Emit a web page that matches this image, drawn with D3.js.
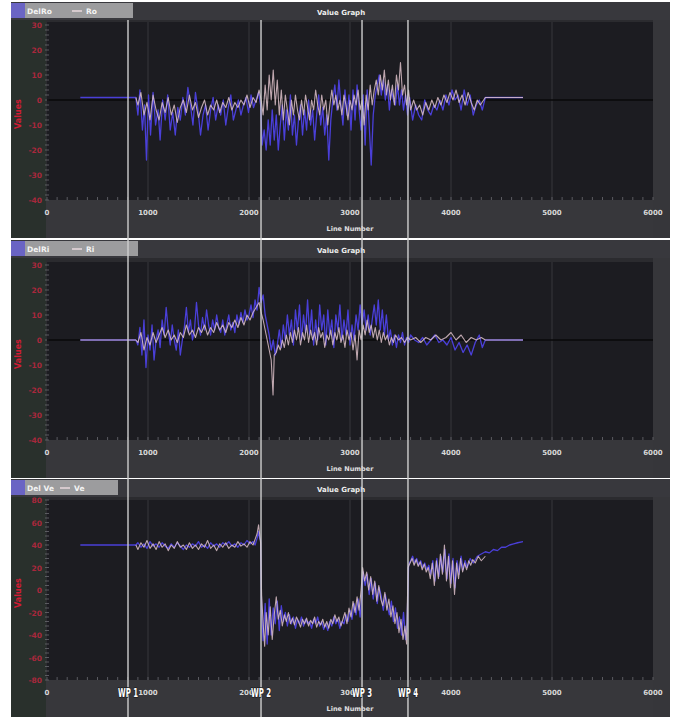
<!DOCTYPE html>
<html><head><meta charset="utf-8">
<script src="https://cdn.jsdelivr.net/npm/d3@7/dist/d3.min.js"></script>
<style>body{margin:0;background:#fff}svg{display:block}</style>
</head><body><svg id="c" width="678" height="717"></svg>
<script>
// ---------- data ----------
const xTicks = [0, 1000, 2000, 3000, 4000, 5000, 6000];
const yTicksA = [30, 20, 10, 0, -10, -20, -30, -40];
const yTicksB = [80, 60, 40, 20, 0, -20, -40, -60, -80];
const titles = ["Value Graph", "Value Graph", "Value Graph"];
const xLabel = "Line Number";
const yLabel = "Values";
const legendA = ["DelRo", "Ro"];
const legendB = ["DelRi", "Ri"];
const legendC = ["Del Ve", "Ve"];
const wpPositions = [802, 2119, 3119, 3574];
const wpLabels = ["WP 1", "WP 2", "WP 3", "WP 4"];

const p1Blue = [[330,1],[880,1],[900,-6],[920,4],[945,-12],[965,-2],[985,-24],[1005,2],[1025,-14],[1050,3],[1075,-10],[1100,-4],[1120,-16],[1145,0],[1170,-8],[1195,2],[1220,-12],[1245,-5],[1270,-14],[1295,-3],[1320,-8],[1345,1],[1370,-6],[1395,5],[1420,-2],[1445,-10],[1470,3],[1495,-4],[1520,-14],[1545,-6],[1570,-2],[1595,-12],[1620,-4],[1645,1],[1670,-8],[1695,-2],[1720,-6],[1745,0],[1770,-10],[1795,-3],[1820,2],[1845,-8],[1870,-4],[1895,0],[1920,-6],[1945,-2],[1970,1],[1995,-5],[2020,2],[2045,-3],[2070,0],[2095,3],[2115,-2],[2130,-18],[2150,-12],[2170,-20],[2190,-8],[2210,-18],[2230,-4],[2250,-16],[2270,-6],[2290,-20],[2310,-10],[2330,-2],[2350,-16],[2370,-4],[2390,-12],[2410,2],[2430,-14],[2450,-6],[2470,-18],[2490,-8],[2510,-2],[2530,-14],[2550,-4],[2570,-12],[2590,0],[2610,-10],[2630,-4],[2650,-16],[2670,-6],[2690,2],[2710,-10],[2730,-3],[2750,-14],[2770,-6],[2790,-24],[2810,-8],[2830,0],[2850,6],[2870,-4],[2890,8],[2910,-2],[2930,-10],[2950,4],[2970,-6],[2990,2],[3010,-12],[3030,4],[3050,-8],[3070,6],[3090,-4],[3110,-12],[3130,2],[3150,-18],[3170,4],[3190,-10],[3210,-26],[3230,-6],[3250,2],[3270,6],[3290,10],[3310,2],[3330,8],[3350,0],[3370,6],[3390,-4],[3410,4],[3430,0],[3450,-2],[3470,6],[3490,-2],[3510,4],[3530,-4],[3550,2],[3570,-6],[3590,1],[3620,-8],[3650,-2],[3680,-6],[3710,-8],[3740,0],[3770,-4],[3800,-6],[3830,-2],[3860,-4],[3890,0],[3920,-4],[3950,2],[3980,-2],[4010,4],[4040,0],[4070,2],[4100,-4],[4130,4],[4160,-2],[4190,2],[4220,-6],[4250,-2],[4280,0],[4310,-4],[4340,1],[4713,1]];
const p1Pink = [[880,1],[900,-2],[930,3],[960,-6],[990,-1],[1020,-8],[1050,2],[1080,-4],[1110,-8],[1140,-1],[1170,-5],[1200,1],[1230,-6],[1260,-2],[1290,-9],[1320,-3],[1350,0],[1380,-5],[1410,2],[1440,-4],[1470,-1],[1500,-7],[1530,-3],[1560,0],[1590,-6],[1620,-2],[1650,-4],[1680,0],[1710,-5],[1740,-1],[1770,-3],[1800,1],[1830,-4],[1860,-1],[1890,-3],[1920,0],[1950,-2],[1980,2],[2010,-3],[2040,1],[2070,-1],[2100,4],[2120,0],[2140,-6],[2160,6],[2180,-4],[2200,10],[2220,0],[2240,12],[2260,-2],[2280,8],[2300,-6],[2320,4],[2340,-8],[2360,2],[2380,-4],[2400,-10],[2420,0],[2440,-6],[2460,2],[2480,-4],[2500,-8],[2520,0],[2540,-6],[2560,2],[2580,-3],[2600,-8],[2620,0],[2640,-4],[2660,4],[2680,-2],[2700,-6],[2720,2],[2740,-4],[2760,0],[2780,-10],[2800,-2],[2820,4],[2840,-2],[2860,2],[2880,-4],[2900,0],[2920,-6],[2940,2],[2960,-2],[2980,-8],[3000,0],[3020,-4],[3040,2],[3060,-2],[3080,4],[3100,-4],[3120,0],[3140,-10],[3160,2],[3180,-4],[3200,6],[3220,-2],[3240,4],[3260,8],[3280,2],[3300,10],[3320,4],[3340,12],[3360,2],[3380,8],[3400,0],[3420,6],[3440,-2],[3460,10],[3480,4],[3500,15],[3520,2],[3540,6],[3560,-2],[3580,4],[3600,-4],[3630,0],[3660,-4],[3690,-2],[3720,-6],[3750,-1],[3780,-4],[3810,0],[3840,-3],[3870,1],[3900,-2],[3930,2],[3960,-1],[3990,3],[4020,0],[4050,4],[4080,-1],[4110,2],[4140,-2],[4170,3],[4200,-1],[4230,-4],[4260,0],[4290,-2],[4340,1],[4713,1]];

const p2Blue = [[330,0],[880,0],[900,-2],[920,5],[940,-6],[960,8],[980,-11],[1000,2],[1020,-4],[1040,6],[1060,-8],[1080,0],[1100,4],[1120,-3],[1140,8],[1160,2],[1180,13],[1200,4],[1220,-2],[1240,6],[1260,0],[1280,-4],[1300,4],[1320,-6],[1340,0],[1360,5],[1380,13],[1400,3],[1420,8],[1440,0],[1460,4],[1480,15],[1500,6],[1520,2],[1540,9],[1560,4],[1580,12],[1600,6],[1620,2],[1640,8],[1660,4],[1680,10],[1700,5],[1720,3],[1740,8],[1760,2],[1780,6],[1800,10],[1820,4],[1840,7],[1860,3],[1880,10],[1900,6],[1920,11],[1940,7],[1960,12],[1980,8],[2000,10],[2020,14],[2040,9],[2060,16],[2080,12],[2100,21],[2120,15],[2140,18],[2160,10],[2180,6],[2200,2],[2220,-4],[2240,0],[2260,-6],[2280,-2],[2300,4],[2320,-3],[2340,6],[2360,0],[2380,10],[2400,2],[2420,8],[2440,-2],[2460,12],[2480,4],[2500,14],[2520,0],[2540,10],[2560,3],[2580,16],[2600,2],[2620,12],[2640,-2],[2660,8],[2680,0],[2700,14],[2720,4],[2740,10],[2760,-2],[2780,12],[2800,2],[2820,8],[2840,-3],[2860,10],[2880,4],[2900,14],[2920,0],[2940,8],[2960,2],[2980,12],[3000,-2],[3020,6],[3040,0],[3060,10],[3080,4],[3100,14],[3120,6],[3140,12],[3160,4],[3180,10],[3200,2],[3220,8],[3240,14],[3260,6],[3280,16],[3300,4],[3320,12],[3340,2],[3360,10],[3380,0],[3400,4],[3420,-2],[3440,2],[3460,-3],[3480,2],[3500,-1],[3520,3],[3540,-2],[3560,1],[3580,-1],[3600,2],[3640,0],[3680,-1],[3720,1],[3760,-2],[3800,0],[3840,2],[3880,-1],[3920,0],[3960,-2],[4000,1],[4040,-4],[4080,-1],[4120,-5],[4160,-2],[4200,-6],[4240,-1],[4280,2],[4310,-3],[4340,0],[4713,0]];
const p2Pink = [[330,0],[880,0],[900,-1],[930,3],[960,-4],[990,1],[1020,-2],[1050,3],[1080,-1],[1110,2],[1140,5],[1170,1],[1200,4],[1230,0],[1260,2],[1290,-1],[1320,3],[1350,1],[1380,6],[1410,2],[1440,4],[1470,1],[1500,5],[1530,3],[1560,6],[1590,2],[1620,5],[1650,3],[1680,7],[1710,4],[1740,6],[1770,3],[1800,7],[1830,5],[1860,8],[1890,5],[1920,9],[1950,6],[1980,10],[2010,8],[2040,11],[2070,13],[2100,15],[2120,11],[2140,8],[2160,4],[2180,0],[2200,-4],[2220,-8],[2238,-22],[2250,-6],[2270,-5],[2290,-2],[2310,-4],[2330,0],[2350,-3],[2370,2],[2390,-2],[2410,3],[2430,-1],[2450,4],[2470,0],[2490,5],[2510,-2],[2530,3],[2550,0],[2570,6],[2590,-1],[2610,4],[2630,0],[2650,3],[2670,-2],[2690,5],[2710,1],[2730,3],[2750,-3],[2770,2],[2790,0],[2810,4],[2830,-2],[2850,3],[2870,0],[2890,5],[2910,-1],[2930,2],[2950,-3],[2970,4],[2990,0],[3010,3],[3030,-4],[3050,2],[3070,-8],[3090,4],[3110,0],[3130,6],[3150,2],[3170,8],[3190,3],[3210,6],[3230,1],[3250,5],[3270,0],[3290,4],[3310,-1],[3330,3],[3350,0],[3370,2],[3390,-2],[3410,1],[3430,-1],[3450,2],[3480,0],[3510,1],[3540,-1],[3570,1],[3600,0],[3650,1],[3700,-1],[3750,1],[3800,0],[3850,2],[3900,0],[3950,1],[4000,3],[4050,0],[4100,2],[4150,-1],[4200,1],[4250,0],[4300,1],[4340,0],[4713,0]];

const p3Blue = [[330,40],[880,40],[900,42],[930,38],[960,41],[990,37],[1020,43],[1050,39],[1080,41],[1110,38],[1140,42],[1170,39],[1200,37],[1230,41],[1260,38],[1290,42],[1320,39],[1350,36],[1380,40],[1410,38],[1440,41],[1470,39],[1500,43],[1530,38],[1560,40],[1590,37],[1620,42],[1650,39],[1680,41],[1710,38],[1740,42],[1770,40],[1800,43],[1830,39],[1860,41],[1890,38],[1920,42],[1950,40],[1980,44],[2010,41],[2040,43],[2060,40],[2080,46],[2095,52],[2105,46],[2115,44],[2125,-20],[2140,-45],[2160,-12],[2180,-48],[2200,-8],[2220,-40],[2240,-16],[2260,-30],[2280,-10],[2300,-36],[2320,-14],[2340,-28],[2360,-20],[2380,-32],[2400,-22],[2420,-30],[2440,-24],[2460,-34],[2480,-26],[2500,-30],[2520,-24],[2540,-32],[2560,-26],[2580,-30],[2600,-28],[2620,-34],[2640,-26],[2660,-30],[2680,-24],[2700,-32],[2720,-28],[2740,-35],[2760,-30],[2780,-36],[2800,-28],[2820,-32],[2840,-24],[2860,-30],[2880,-26],[2900,-34],[2920,-28],[2940,-30],[2960,-22],[2980,-28],[3000,-18],[3020,-26],[3040,-12],[3060,-22],[3080,-8],[3100,-24],[3120,-2],[3130,16],[3150,4],[3170,14],[3190,-4],[3210,10],[3230,-8],[3250,6],[3270,-12],[3290,2],[3310,-6],[3330,-18],[3350,-4],[3370,-14],[3390,-22],[3410,-10],[3430,-28],[3450,-16],[3470,-34],[3490,-24],[3510,-40],[3530,-20],[3550,-44],[3565,-30],[3580,22],[3600,26],[3620,30],[3640,24],[3660,28],[3680,22],[3700,26],[3720,20],[3740,24],[3760,18],[3780,22],[3800,14],[3820,26],[3840,8],[3860,28],[3880,12],[3900,30],[3920,16],[3940,36],[3960,10],[3980,32],[4000,6],[4020,28],[4040,2],[4060,26],[4080,14],[4100,30],[4120,18],[4140,26],[4160,20],[4190,28],[4220,24],[4260,30],[4300,32],[4340,34],[4380,33],[4420,36],[4460,35],[4500,38],[4540,38],[4580,40],[4620,41],[4660,42],[4713,43]];
const p3Pink = [[880,40],[900,36],[930,42],[960,38],[990,44],[1020,37],[1050,41],[1080,36],[1110,43],[1140,38],[1170,41],[1200,35],[1230,40],[1260,37],[1290,43],[1320,38],[1350,40],[1380,36],[1410,42],[1440,37],[1470,40],[1500,36],[1530,41],[1560,38],[1590,44],[1620,37],[1650,40],[1680,35],[1710,41],[1740,38],[1770,42],[1800,37],[1830,40],[1860,38],[1890,43],[1920,39],[1950,41],[1980,38],[2010,43],[2040,40],[2060,45],[2080,50],[2095,58],[2105,50],[2115,42],[2125,-5],[2140,-30],[2155,-50],[2170,-20],[2190,-40],[2210,-15],[2230,-44],[2250,-22],[2270,-6],[2290,-26],[2310,-18],[2330,-32],[2350,-22],[2370,-28],[2390,-20],[2410,-30],[2430,-25],[2450,-31],[2470,-24],[2490,-28],[2510,-33],[2530,-26],[2550,-30],[2570,-25],[2590,-32],[2610,-27],[2630,-30],[2650,-24],[2670,-33],[2690,-28],[2710,-31],[2730,-26],[2750,-33],[2770,-28],[2790,-34],[2810,-26],[2830,-30],[2850,-22],[2870,-28],[2890,-24],[2910,-32],[2930,-26],[2950,-20],[2970,-30],[2990,-16],[3010,-24],[3030,-10],[3050,-20],[3070,-6],[3090,-18],[3110,0],[3125,20],[3145,8],[3165,16],[3185,0],[3205,12],[3225,-4],[3245,8],[3265,-10],[3285,4],[3305,-8],[3325,-14],[3345,-2],[3365,-18],[3385,-8],[3405,-24],[3425,-14],[3445,-30],[3465,-20],[3485,-38],[3505,-26],[3525,-44],[3545,-32],[3560,-48],[3575,20],[3595,24],[3615,28],[3635,22],[3655,27],[3675,21],[3695,25],[3715,18],[3735,23],[3755,16],[3775,20],[3795,10],[3815,24],[3835,4],[3855,26],[3875,10],[3895,32],[3915,14],[3935,40],[3955,8],[3975,30],[3995,2],[4015,26],[4035,-4],[4055,24],[4075,10],[4095,28],[4115,16],[4135,24],[4155,18],[4175,26],[4195,22],[4215,27],[4240,24],[4270,30],[4300,26],[4340,30]];

// ---------- layout ----------
const svg = d3.select("#c");
const panels = [
  {top:2, bottom:238, pt:22, pb:200, dom:[-40,31.2], ticks:yTicksA, minor:2, legend:legendA, lw:122, blue:p1Blue, pink:p1Pink, zero:true, title:titles[0]},
  {top:240, bottom:478, pt:262, pb:440, dom:[-40,31.2], ticks:yTicksA, minor:2, legend:legendB, lw:127, blue:p2Blue, pink:p2Pink, zero:true, title:titles[1]},
  {top:479, bottom:717, pt:500, pb:680, dom:[-80,80], ticks:yTicksB, minor:4, legend:legendC, lw:107, blue:p3Blue, pink:p3Pink, zero:false, title:titles[2]}
];
const x = d3.scaleLinear().domain([0,6000]).range([47,653]);
const F = "'DejaVu Sans', sans-serif";

panels.forEach((p, i) => {
  const g = svg.append("g");
  const y = d3.scaleLinear().domain(p.dom).range([p.pb, p.pt]);
  g.append("rect").attr("x",11).attr("y",p.top).attr("width",659).attr("height",p.bottom-p.top).attr("fill","#2b2b2f");
  g.append("rect").attr("x",11).attr("y",p.top).attr("width",659).attr("height",18).attr("fill","#38383d");
  g.append("rect").attr("x",11).attr("y",p.top+18).attr("width",35).attr("height",p.bottom-p.top-18).attr("fill","#29302c");
  g.append("rect").attr("x",46).attr("y",p.pb).attr("width",624).attr("height",p.bottom-p.pb).attr("fill","#37373b");
  g.append("rect").attr("x",653).attr("y",p.top+18).attr("width",17).attr("height",p.bottom-p.top-18).attr("fill","#36363a");
  g.append("rect").attr("x",47).attr("y",p.pt).attr("width",606).attr("height",p.pb-p.pt).attr("fill","#1c1c21");
  g.selectAll(".vg").data(xTicks.slice(1,-1)).enter().append("line")
    .attr("x1",d=>x(d)).attr("x2",d=>x(d)).attr("y1",p.pt).attr("y2",p.pb)
    .attr("stroke","#36363d").attr("stroke-width",1);
  g.selectAll(".mx").data(d3.range(0,6001,100)).enter().append("line")
    .attr("x1",d=>x(d)).attr("x2",d=>x(d)).attr("y1",p.pb-3).attr("y2",p.pb)
    .attr("stroke","#5a5a60").attr("stroke-width",1);
  g.selectAll(".my").data(d3.range(p.dom[0], p.dom[1]+0.01, p.minor)).enter().append("line")
    .attr("x1",45).attr("x2",49).attr("y1",d=>y(d)).attr("y2",d=>y(d))
    .attr("stroke","#6a6a70").attr("stroke-width",0.8);
  if (p.zero) {
    g.append("line").attr("x1",47).attr("x2",653).attr("y1",y(0)).attr("y2",y(0))
      .attr("stroke","#08080a").attr("stroke-width",1.6);
  }
  const line = d3.line().x(d=>x(d[0])).y(d=>y(d[1]));
  g.append("path").datum(p.blue).attr("d",line).attr("fill","none")
    .attr("stroke","#4a3fd8").attr("stroke-width",1.3).attr("stroke-linejoin","round");
  g.append("path").datum(p.pink).attr("d",line).attr("fill","none")
    .attr("stroke","#dcbfc8").attr("stroke-width",1.1).attr("stroke-opacity",0.85).attr("stroke-linejoin","round");
  g.selectAll(".yt").data(p.ticks).enter().append("text")
    .attr("x",42).attr("y",d=>y(d)+3).attr("text-anchor","end")
    .attr("font-family",F).attr("font-size",7.5).attr("font-weight","bold")
    .attr("fill","#a8283c").text(d=>d);
  const cy = (p.pt+p.pb)/2 + 3;
  g.append("text").attr("transform",`translate(21,${cy}) rotate(-90)`).attr("text-anchor","middle")
    .attr("font-family",F).attr("font-size",8).attr("font-weight","bold")
    .attr("fill","#d01c34").text(yLabel);
  g.selectAll(".xt").data(xTicks).enter().append("text")
    .attr("x",d=>x(d)).attr("y",p.pb+15).attr("text-anchor","middle")
    .attr("font-family",F).attr("font-size",7).attr("font-weight","bold")
    .attr("fill","#d8d8d8").text(d=>d);
  g.append("text").attr("x",350).attr("y",p.pb+31).attr("text-anchor","middle")
    .attr("font-family",F).attr("font-size",6.5).attr("font-weight","bold")
    .attr("fill","#e0e0e0").text(xLabel);
  g.append("text").attr("x",341).attr("y",p.top+13).attr("text-anchor","middle")
    .attr("font-family",F).attr("font-size",7).attr("font-weight","bold")
    .attr("fill","#eeeeee").text(p.title);
  g.append("rect").attr("x",11).attr("y",p.top+1).attr("width",p.lw).attr("height",15).attr("fill","#9c9c9e");
  g.append("rect").attr("x",11).attr("y",p.top+1).attr("width",14).attr("height",15).attr("fill","#6a64c4");
  g.append("text").attr("x",27).attr("y",p.top+11.5).attr("font-family",F).attr("font-size",7.5)
    .attr("font-weight","bold").attr("fill","#f4f4f4").text(p.legend[0]);
  const lx = i===2 ? 60 : 72;
  g.append("line").attr("x1",lx).attr("x2",lx+10).attr("y1",p.top+9).attr("y2",p.top+9)
    .attr("stroke","#e8d8dc").attr("stroke-width",1.5);
  g.append("text").attr("x",lx+14).attr("y",p.top+11.5).attr("font-family",F).attr("font-size",7.5)
    .attr("font-weight","bold").attr("fill","#f4f4f4").text(p.legend[1]);
});

svg.selectAll(".wp").data(wpPositions).enter().append("line")
  .attr("x1",d=>x(d)).attr("x2",d=>x(d)).attr("y1",20).attr("y2",717)
  .attr("stroke","#cfcfcf").attr("stroke-width",1.4);
svg.selectAll(".wpl").data(wpPositions).enter().append("text")
  .attr("x",d=>x(d)).attr("y",697).attr("text-anchor","middle")
  .attr("font-family","'DejaVu Sans Condensed','DejaVu Sans',sans-serif")
  .attr("font-size",13).attr("font-weight","bold")
  .attr("textLength",20).attr("lengthAdjust","spacingAndGlyphs")
  .attr("fill","#ffffff").attr("stroke","#1e1e22").attr("stroke-width",1.5).attr("paint-order","stroke")
  .text((d,i)=>wpLabels[i]);
</script></body></html>
